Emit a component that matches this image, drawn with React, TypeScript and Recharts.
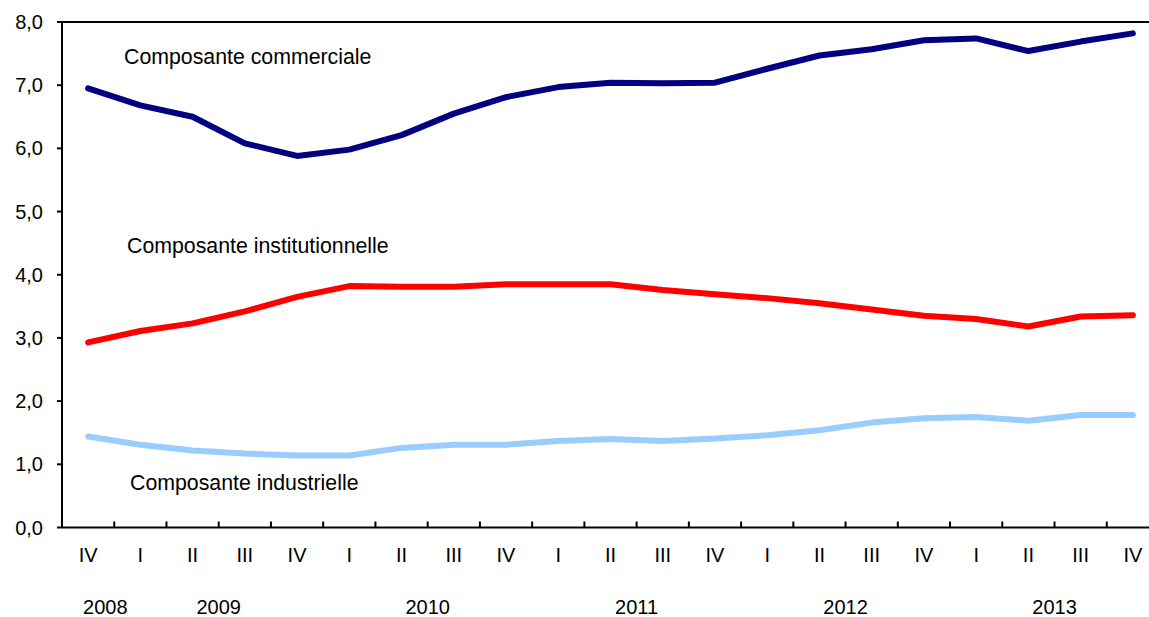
import { LineChart, Line, XAxis, YAxis, ReferenceLine } from 'recharts';

const quarters = ['IV', 'I', 'II', 'III', 'IV', 'I', 'II', 'III', 'IV', 'I', 'II', 'III', 'IV', 'I', 'II', 'III', 'IV', 'I', 'II', 'III', 'IV'];
const years = ['2008', '2009', '2010', '2011', '2012', '2013'];
const yearTicks = [0.33, 2.5, 6.5, 10.5, 14.5, 18.5];
const yTicks = [0, 1, 2, 3, 4, 5, 6, 7, 8];

const commerciale = [6.95, 6.68, 6.5, 6.08, 5.88, 5.98, 6.21, 6.55, 6.81, 6.97, 7.04, 7.03, 7.04, 7.26, 7.47, 7.57, 7.71, 7.74, 7.54, 7.69, 7.82];
const institutionnelle = [2.93, 3.11, 3.23, 3.42, 3.65, 3.82, 3.81, 3.81, 3.85, 3.85, 3.85, 3.76, 3.69, 3.63, 3.55, 3.45, 3.35, 3.3, 3.18, 3.34, 3.36];
const industrielle = [1.44, 1.31, 1.22, 1.17, 1.14, 1.14, 1.26, 1.31, 1.31, 1.37, 1.4, 1.37, 1.41, 1.46, 1.54, 1.66, 1.73, 1.75, 1.69, 1.78, 1.78];

const data = quarters.map((q, i) => ({
  idx: i,
  q,
  commerciale: commerciale[i],
  institutionnelle: institutionnelle[i],
  industrielle: industrielle[i],
}));
// tick marks sit between quarters; each one carries the label of the quarter to its left
const sepTicks = quarters.map((_, i) => i + 0.5);

const CHART_W = 1170;
const MARGIN_R = 11;
const Y_W = 62;
const HALF_BAND = (CHART_W - MARGIN_R - Y_W) / quarters.length / 2;

const FONT = '"Liberation Sans", Arial, Helvetica, sans-serif';
const fmt = (v: number) => v.toFixed(1).replace('.', ',');
const tickStyle = { fill: '#000', fontSize: 20, fontFamily: FONT };
const axisStroke = { stroke: '#000', strokeWidth: 2 };

function QuarterTick(props: any) {
  const { x, y, payload } = props;
  const label = quarters[Math.round(payload.value - 0.5)];
  return (
    <text x={x - HALF_BAND} y={y} dy="0.71em" textAnchor="middle" fontSize={20} fontFamily={FONT} fill="#000">
      {label}
    </text>
  );
}

export default function App() {
  return (
    <div style={{ position: 'fixed', left: 0, top: 0, width: 1149, height: 617, overflow: 'hidden', background: '#fff' }}>
      <LineChart width={CHART_W} height={617} data={data} margin={{ top: 22, right: MARGIN_R, bottom: 0, left: 0 }}>
        <XAxis
          dataKey="idx"
          type="number"
          domain={[-0.5, 20.5]}
          ticks={sepTicks}
          interval={0}
          height={45}
          tickSize={-6}
          tickMargin={26.5}
          tick={<QuarterTick />}
          axisLine={axisStroke}
          tickLine={axisStroke}
        />
        <XAxis
          xAxisId="yr"
          dataKey="idx"
          type="number"
          domain={[-0.5, 20.5]}
          ticks={yearTicks}
          interval={0}
          height={44.5}
          tickLine={false}
          axisLine={false}
          tickSize={0}
          tickMargin={27}
          tickFormatter={(v: number) => years[yearTicks.indexOf(v)]}
          tick={tickStyle}
        />
        <YAxis
          type="number"
          domain={[0, 8]}
          ticks={yTicks}
          interval={0}
          width={Y_W}
          tickSize={5}
          tickMargin={14}
          tickFormatter={fmt}
          tick={tickStyle}
          axisLine={axisStroke}
          tickLine={axisStroke}
        />
        <ReferenceLine y={8} stroke="#000" strokeWidth={2} />
        <Line type="linear" dataKey="commerciale" stroke="#000080" strokeWidth={6} dot={false} strokeLinecap="round" strokeLinejoin="round" isAnimationActive={false} />
        <Line type="linear" dataKey="institutionnelle" stroke="#ff0000" strokeWidth={6} dot={false} strokeLinecap="round" strokeLinejoin="round" isAnimationActive={false} />
        <Line type="linear" dataKey="industrielle" stroke="#99ccff" strokeWidth={6} dot={false} strokeLinecap="round" strokeLinejoin="round" isAnimationActive={false} />
        <text x={124} y={64} fontSize={21.3} fontFamily={FONT} fill="#000">Composante commerciale</text>
        <text x={127} y={253} fontSize={21.3} fontFamily={FONT} fill="#000">Composante institutionnelle</text>
        <text x={130} y={490} fontSize={21.3} fontFamily={FONT} fill="#000">Composante industrielle</text>
      </LineChart>
    </div>
  );
}
